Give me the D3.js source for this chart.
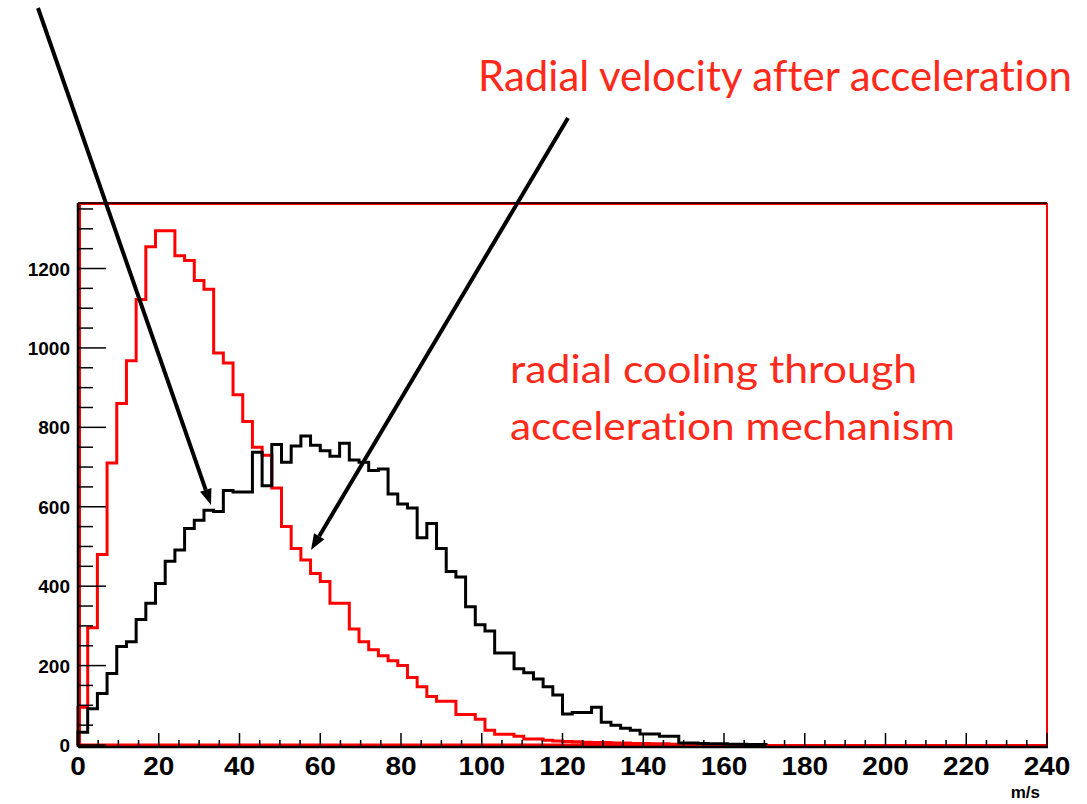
<!DOCTYPE html>
<html>
<head>
<meta charset="utf-8">
<script src="https://cdn.jsdelivr.net/npm/d3@7"></script>
<style>
  body { margin: 0; background: #fff; }
  svg { display: block; }
  text { font-variant-ligatures: none; }
</style>
</head>
<body>
<svg id="chart" width="1087" height="804"></svg>
<script>
// Histogram binning: 100 bins of 2.4 m/s from 0 to 240
const binLow = 0;
const binWidth = 2.4;

// Radial velocity after acceleration (red)
const redCounts = [
  95, 295, 480, 710, 860, 968, 1122, 1255, 1295, 1295,
  1232, 1220, 1170, 1148, 987, 962, 882, 815, 750, 730,
  647, 550, 495, 466, 432, 412, 357, 357, 292, 260,
  240, 225, 212, 200, 170, 147, 122, 110, 110, 77,
  77, 65, 37, 27, 27, 22, 15, 15, 12, 10,
  9, 8, 7, 6, 6, 5, 5, 4, 4, 3,
  3, 2, 2, 1, 4, 1, 0, 0, 0, 0,
  0, 0, 0, 0, 0, 0, 0, 0, 0, 0,
  0, 0, 0, 0, 0, 0, 0, 0, 0, 0,
  0, 0, 0, 0, 0, 0, 0, 0, 0, 0
];

// Radial velocity before acceleration (black)
const blackCounts = [
  32, 91, 130, 180, 248, 260, 316, 357, 407, 463,
  491, 545, 566, 591, 588, 641, 637, 637, 737, 653,
  757, 712, 753, 778, 755, 741, 727, 760, 718, 712,
  691, 695, 632, 607, 597, 522, 558, 495, 437, 423,
  348, 303, 287, 232, 232, 192, 182, 166, 147, 126,
  78, 82, 82, 95, 57, 50, 42, 37, 28, 28,
  22, 22, 5, 5, 4, 3, 3, 2, 2, 1,
  1, 0, 0, 0, 0, 0, 0, 0, 0, 0,
  0, 0, 0, 0, 0, 0, 0, 0, 0, 0,
  0, 0, 0, 0, 0, 0, 0, 0, 0, 0
];

const xTickLabels = [0, 20, 40, 60, 80, 100, 120, 140, 160, 180, 200, 220, 240];
const yTickLabels = [0, 200, 400, 600, 800, 1000, 1200];
const xAxisTitle = "m/s";
const titleText = "Radial velocity after acceleration";
const noteLines = ["radial cooling through", "acceleration mechanism"];

const svg = d3.select("#chart");
const frame = { left: 78, right: 1047, top: 203, bottom: 747 };

const x = d3.scaleLinear().domain([0, 240]).range([frame.left, frame.right]);
const y = d3.scaleLinear().domain([0, 1365]).range([745, frame.top]);

// Frame drawn in red, slightly inset from the black axes
svg.append("rect")
  .attr("x", frame.left + 2).attr("y", frame.top + 1)
  .attr("width", frame.right - frame.left - 2)
  .attr("height", 745 - frame.top - 1)
  .attr("fill", "none").attr("stroke", "#ff0000").attr("stroke-width", 2);

// Step outline of a histogram; optionally closed along the baseline
function stepPath(counts, closed) {
  const p = d3.path();
  let last = counts.length - 1;
  while (last > 0 && counts[last] === 0) last--;
  p.moveTo(x(binLow), y(0));
  counts.forEach((c, i) => {
    if (i > last) return;
    const x0 = x(binLow + i * binWidth), x1 = x(binLow + (i + 1) * binWidth);
    p.lineTo(x0, y(c));
    p.lineTo(x1, y(c));
  });
  p.lineTo(x(binLow + (last + 1) * binWidth), y(0));
  if (closed) p.closePath();
  return p.toString();
}

svg.append("path")
  .attr("d", stepPath(redCounts, true))
  .attr("fill", "none").attr("stroke", "#ff0000")
  .attr("stroke-width", 3).attr("stroke-linejoin", "miter");

svg.append("path")
  .attr("d", stepPath(blackCounts, false))
  .attr("fill", "none").attr("stroke", "#000")
  .attr("stroke-width", 3).attr("stroke-linejoin", "miter");

// Axes (ticks pointing into the frame)
const axisG = svg.append("g");
axisG.append("line")
  .attr("x1", frame.left).attr("x2", frame.left)
  .attr("y1", frame.top).attr("y2", frame.bottom)
  .attr("stroke", "#000").attr("stroke-width", 2.5);
axisG.append("line")
  .attr("x1", frame.left).attr("x2", frame.right + 1)
  .attr("y1", frame.bottom).attr("y2", frame.bottom)
  .attr("stroke", "#000").attr("stroke-width", 2.5);
axisG.append("line")
  .attr("x1", frame.left).attr("x2", frame.right)
  .attr("y1", frame.top).attr("y2", frame.top)
  .attr("stroke", "#3a0000").attr("stroke-width", 2);

const xMinor = d3.range(0, 241, 5);
axisG.selectAll(".xt").data(xMinor).join("line")
  .attr("x1", d => x(d)).attr("x2", d => x(d))
  .attr("y1", frame.bottom)
  .attr("y2", d => frame.bottom - (d % 20 === 0 ? 14 : 7))
  .attr("stroke", "#000").attr("stroke-width", 1.5);

const yMinor = d3.range(0, 1351, 50);
axisG.selectAll(".yt").data(yMinor).join("line")
  .attr("x1", frame.left)
  .attr("x2", d => frame.left + (d % 200 === 0 ? 28 : 15))
  .attr("y1", d => y(d)).attr("y2", d => y(d))
  .attr("stroke", "#000").attr("stroke-width", 1.5);

const tickFont = "'Liberation Sans', Arial, sans-serif";
axisG.selectAll(".xl").data(xTickLabels).join("text")
  .attr("x", d => x(d)).attr("y", 775)
  .attr("text-anchor", "middle")
  .attr("font-family", tickFont).attr("font-weight", "bold")
  .attr("font-size", 25)
  .attr("transform", d => `translate(${x(d)},0) scale(1.12,1) translate(${-x(d)},0)`)
  .text(d => d);

axisG.selectAll(".yl").data(yTickLabels).join("text")
  .attr("x", 70).attr("y", d => y(d) + 7)
  .attr("text-anchor", "end")
  .attr("font-family", tickFont).attr("font-weight", "bold")
  .attr("font-size", 19)
  .text(d => d);

svg.append("text")
  .attr("x", 1040).attr("y", 798).attr("text-anchor", "end")
  .attr("font-family", tickFont).attr("font-weight", "bold")
  .attr("font-size", 17)
  .text(xAxisTitle);

// Annotations
const noteColor = "#ff2a1a";
const noteFont = "Lato, 'Open Sans', sans-serif";
svg.append("text")
  .attr("x", 478).attr("y", 91)
  .attr("font-family", noteFont).attr("font-size", 43)
  .attr("fill", noteColor)
  .attr("textLength", 594).attr("lengthAdjust", "spacingAndGlyphs")
  .text(titleText);

svg.selectAll(".note").data(noteLines).join("text")
  .attr("x", 510).attr("y", (d, i) => 383 + i * 57)
  .attr("font-family", noteFont).attr("font-size", 38)
  .attr("fill", noteColor)
  .attr("textLength", (d, i) => i === 0 ? 407 : 445)
  .attr("lengthAdjust", "spacingAndGlyphs")
  .text(d => d);

// Arrows pointing at the two distributions
const arrows = [
  { from: [38, 8], to: [211, 505] },
  { from: [568, 118], to: [311, 550] }
];
arrows.forEach(a => {
  const [x1, y1] = a.from, [x2, y2] = a.to;
  const ang = Math.atan2(y2 - y1, x2 - x1);
  const headLen = 16, headW = 6;
  const bx = x2 - headLen * Math.cos(ang), by = y2 - headLen * Math.sin(ang);
  svg.append("line")
    .attr("x1", x1).attr("y1", y1).attr("x2", bx).attr("y2", by)
    .attr("stroke", "#000").attr("stroke-width", 4);
  const px = -Math.sin(ang), py = Math.cos(ang);
  svg.append("path")
    .attr("d", `M${x2},${y2} L${bx + px * headW},${by + py * headW} L${bx - px * headW},${by - py * headW} Z`)
    .attr("fill", "#000");
});
</script>
</body>
</html>
